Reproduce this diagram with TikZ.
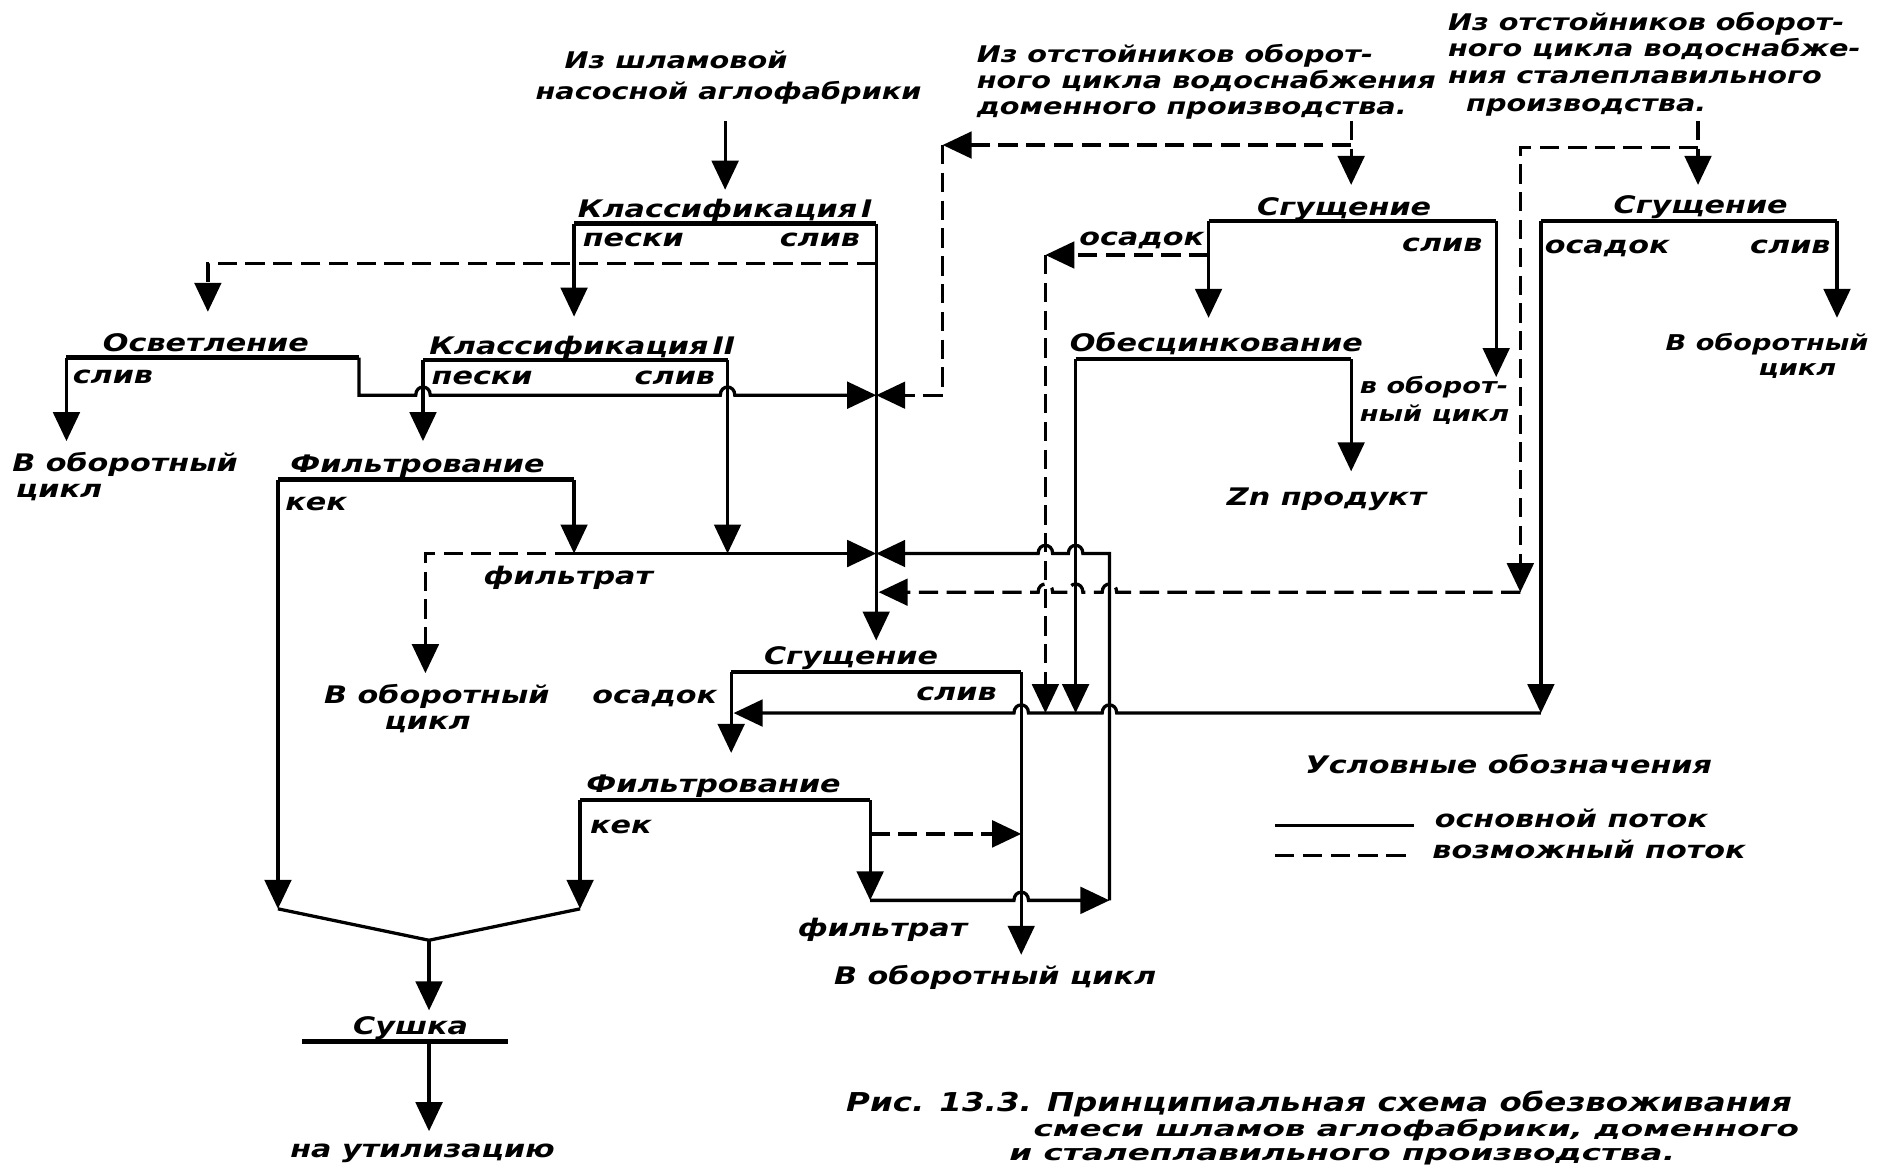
\documentclass[tikz,border=0pt]{standalone}
\usepackage{fontspec}
\newfontfamily\df{DejaVu Sans}[FakeStretch=1.25]
\newfontfamily\cf{DejaVu Sans}[FakeStretch=1.5]
\usetikzlibrary{arrows.meta}
\tikzset{
  flow/.style={line width=2.7pt},
  poss/.style={line width=2.7pt, dash pattern=on 16pt off 7pt},
  barline/.style={line width=3.8pt},
  tip/.style={-{Triangle[width=22pt,length=24pt]}},
  lbl/.style={font=\df\bfseries\itshape\fontsize{20}{22}\selectfont, inner sep=0pt, anchor=base west},
  small/.style={font=\df\bfseries\itshape\fontsize{18}{20}\selectfont, inner sep=0pt, anchor=base west},
  src/.style={font=\df\bfseries\itshape\fontsize{19}{21}\selectfont, inner sep=0pt, anchor=base west},
  capt/.style={font=\cf\bfseries\itshape\fontsize{18}{20}\selectfont, inner sep=0pt, anchor=base west},
}
\begin{document}
\begin{tikzpicture}[x=1pt,y=-1pt]
\fill[white] (0,0) rectangle (1568,968);
\path[use as bounding box] (0,0) rectangle (1568,968);

% ---------- texts ----------
\node[src] (sA1) at (467,57) {Из шламовой};
\node[src] (sA2) at (443,82) {насосной аглофабрики};
\node[src] (sB1) at (808,52) {Из отстойников оборот-};
\node[src] (sB2) at (808,73) {ного цикла водоснабжения};
\node[src] (sB3) at (808,95) {доменного производства.};
\node[src] (sC1) at (1198,25) {Из отстойников оборот-};
\node[src] (sC2) at (1198,47) {ного цикла водоснабже-};
\node[src] (sC3) at (1198,69) {ния сталеплавильного};
\node[src] (sC4) at (1213,92) {производства.};

\node[lbl] (k1) at (478,180) {Классификация\,I};
\node[lbl] (k1p) at (482,204) {пески};
\node[lbl] (k1s) at (645,204) {слив};

\node[lbl] (osv) at (85,291) {Осветление};
\node[lbl] (osvs) at (60,317) {слив};
\node[lbl] (osvo1) at (10,390) {В оборотный};
\node[lbl] (osvo2) at (13,412) {цикл};

\node[lbl] (k2) at (355,293) {Классификация\,II};
\node[lbl] (k2p) at (357,318) {пески};
\node[lbl] (k2s) at (525,318) {слив};

\node[lbl] (f1) at (240,391) {Фильтрование};
\node[lbl] (f1k) at (236,422) {кек};
\node[lbl] (fl1) at (400,484) {фильтрат};
\node[lbl] (o3a) at (268,582) {В оборотный};
\node[lbl] (o3b) at (318,604) {цикл};

\node[lbl] (sgm) at (1040,178) {Сгущение};
\node[lbl] (sgmo) at (893,203) {осадок};
\node[lbl] (sgms) at (1160,208) {слив};
\node[lbl] (ob) at (885,291) {Обесцинкование};
\node[small] (obo1) at (1125,326) {в оборот-};
\node[small] (obo2) at (1125,349) {ный цикл};
\node[lbl] (zn) at (1015,418) {Zn продукт};

\node[lbl] (sgr) at (1335,177) {Сгущение};
\node[lbl] (sgro) at (1278,210) {осадок};
\node[lbl] (sgrs) at (1448,210) {слив};
\node[small] (ro1) at (1378,290) {В оборотный};
\node[small] (ro2) at (1455,311) {цикл};

\node[lbl] (sg3) at (632,550) {Сгущение};
\node[lbl] (sg3o) at (490,582) {осадок};
\node[lbl] (sg3s) at (758,580) {слив};

\node[lbl] (f2) at (485,656) {Фильтрование};
\node[lbl] (f2k) at (488,690) {кек};
\node[lbl] (fl2) at (660,775) {фильтрат};
\node[lbl] (o4) at (690,815) {В оборотный цикл};

\node[lbl] (su) at (292,856) {Сушка};
\node[lbl] (ut) at (240,958) {на утилизацию};

\node[lbl] (leg) at (1080,640) {Условные обозначения};
\node[lbl] (leg1) at (1187,685) {основной поток};
\node[lbl] (leg2) at (1185,710) {возможный поток};

\node[anchor=base west, inner sep=0pt, font=\df\bfseries\itshape\fontsize{21.5}{23}\selectfont] (cap1) at (700,920) {Рис. 13.3. Принципиальная схема обезвоживания};
\node[capt] (cap2) at (855,940) {смеси шламов аглофабрики, доменного};
\node[capt] (cap3) at (835,960) {и сталеплавильного производства.};

% ---------- coordinates ----------
\coordinate (a0) at (600,100);   \coordinate (k1in) at (600,157);
\coordinate (k1L) at (475,185);  \coordinate (k1R) at (725,185);
\coordinate (k2in) at (475,262); \coordinate (sg3in) at (725,530);
\coordinate (dA) at (725,218);   \coordinate (dB) at (172,218); \coordinate (osvin) at (172,258);
\coordinate (osvL) at (55,296);  \coordinate (osvR) at (297,296);
\coordinate (osvout) at (55,365);\coordinate (oc1) at (297,327); \coordinate (bt1) at (725,327);
\coordinate (k2L) at (350,298);  \coordinate (k2R) at (602,298);
\coordinate (f1in) at (350,365); \coordinate (flA) at (602,458);
\coordinate (f1L) at (230,397);  \coordinate (f1R) at (475,397);
\coordinate (dr1) at (230,752);  \coordinate (flj) at (475,458);
\coordinate (bt2) at (725,458);  \coordinate (flD) at (352,458); \coordinate (o3in) at (352,557);
\coordinate (sBtop) at (1118,100); \coordinate (sBj) at (1118,120); \coordinate (sgmin) at (1118,153);
\coordinate (sBc) at (780,120);  \coordinate (sBd) at (780,327);
\coordinate (sgmL) at (1000,183); \coordinate (sgmR) at (1238,183);
\coordinate (obin) at (1000,263);
\coordinate (smd) at (1000,211); \coordinate (smc) at (865,211); \coordinate (smb) at (865,590);
\coordinate (smout) at (1238,312);
\coordinate (obL) at (890,297);  \coordinate (obR) at (1118,297);
\coordinate (znin) at (1118,390); \coordinate (obb) at (890,590);
\coordinate (sCtop) at (1405,100); \coordinate (sCj) at (1405,122); \coordinate (sgrin) at (1405,153);
\coordinate (sCc) at (1258,122); \coordinate (sCd) at (1258,490); \coordinate (bt3) at (727,490);
\coordinate (sgrL) at (1275,183); \coordinate (sgrR) at (1520,183);
\coordinate (rout) at (1520,263); \coordinate (rb) at (1275,590); \coordinate (sg3ret) at (607,590);
\coordinate (sg3L) at (605,556); \coordinate (sg3R) at (845,556);
\coordinate (f2in) at (605,623); \coordinate (o4in) at (845,790);
\coordinate (f2L) at (480,662);  \coordinate (f2R) at (720,662);
\coordinate (dr2) at (480,752);
\coordinate (f2c) at (720,745);  \coordinate (f2d) at (918,745); \coordinate (f2e) at (918,458);
\coordinate (f2da) at (720,690); \coordinate (f2db) at (845,690);
\coordinate (mg) at (355,778);   \coordinate (suin) at (355,836);
\coordinate (suL) at (250,862);  \coordinate (suR) at (420,862); \coordinate (su0) at (355,862);
\coordinate (utin) at (355,936);
\coordinate (l1a) at (1055,683); \coordinate (l1b) at (1170,683);
\coordinate (l2a) at (1055,708); \coordinate (l2b) at (1170,708);

% ---------- Классификация I ----------
\draw[flow,tip] (a0) -- (k1in);
\draw[barline] (k1L) -- (k1R);
\draw[flow,tip] (k1L) -- (k2in);
\draw[flow,tip] (k1R) -- (sg3in);
\draw[poss,tip] (dA) -- (dB) -- (osvin);

% ---------- Осветление ----------
\draw[barline] (osvL) -- (osvR);
\draw[flow,tip] (osvL) -- (osvout);
\draw[flow,tip] (osvR) -- (oc1) -- (344,327) .. controls (344,318) and (356,318) .. (356,327)
   -- (596,327) .. controls (596,318) and (608,318) .. (608,327) -- (bt1);

% ---------- Классификация II ----------
\draw[barline] (k2L) -- (k2R);
\draw[flow,tip] (k2L) -- (f1in);
\draw[flow,tip] (k2R) -- (flA);

% ---------- Фильтрование (upper) ----------
\draw[barline] (f1L) -- (f1R);
\draw[flow,tip] (f1L) -- (dr1);
\draw[flow,tip] (f1R) -- (flj);
\draw[flow,tip] (flj) -- (bt2);
\draw[poss,tip] (flj) -- (flD) -- (o3in);

% ---------- middle source / Сгущение ----------
\draw[poss,tip] (sBtop) -- (sgmin);
\draw[poss,tip] (sBj) -- (sBc);
\draw[poss,tip] (sBc) -- (sBd) -- (bt1);
\draw[barline] (sgmL) -- (sgmR);
\draw[flow,tip] (sgmL) -- (obin);
\draw[poss,tip] (smd) -- (smc);
\draw[poss,tip] (smc) -- (smb);
\draw[flow,tip] (sgmR) -- (smout);

% ---------- Обесцинкование ----------
\draw[barline] (obL) -- (obR);
\draw[flow,tip] (obR) -- (znin);
\draw[flow,tip] (obL) -- (obb);

% ---------- right source / Сгущение ----------
\draw[poss,tip] (sCtop) -- (sgrin);
\draw[poss,tip] (sCj) -- (sCc) -- (sCd);
\draw[poss,tip] (sCd) -- (924,490) .. controls (924,481) and (912,481) .. (912,490)
   -- (896,490) .. controls (896,481) and (884,481) .. (884,490)
   -- (871,490) .. controls (871,481) and (859,481) .. (859,490) -- (bt3);
\draw[barline] (sgrL) -- (sgrR);
\draw[flow,tip] (sgrR) -- (rout);
\draw[flow,tip] (sgrL) -- (rb);
\draw[flow,tip] (rb) -- (924,590) .. controls (924,581) and (912,581) .. (912,590)
   -- (851,590) .. controls (851,581) and (839,581) .. (839,590) -- (sg3ret);

% ---------- Сгущение (lower) ----------
\draw[barline] (sg3L) -- (sg3R);
\draw[flow,tip] (sg3L) -- (f2in);
\draw[flow,tip] (sg3R) -- (o4in);

% ---------- Фильтрование (lower) ----------
\draw[barline] (f2L) -- (f2R);
\draw[flow,tip] (f2L) -- (dr2);
\draw[flow,tip] (f2R) -- (f2c);
\draw[flow,tip] (f2c) -- (839,745) .. controls (839,736) and (851,736) .. (851,745) -- (f2d);
\draw[flow,tip] (f2d) -- (f2e) -- (896,458) .. controls (896,449) and (884,449) .. (884,458)
   -- (871,458) .. controls (871,449) and (859,449) .. (859,458) -- (bt2);
\draw[poss,tip] (f2da) -- (f2db);

% ---------- Сушка ----------
\draw[flow] (dr1) -- (mg) -- (dr2);
\draw[flow,tip] (mg) -- (suin);
\draw[barline] (suL) -- (suR);
\draw[flow,tip] (su0) -- (utin);

% ---------- legend ----------
\draw[flow] (l1a) -- (l1b);
\draw[poss] (l2a) -- (l2b);
\end{tikzpicture}
\end{document}
